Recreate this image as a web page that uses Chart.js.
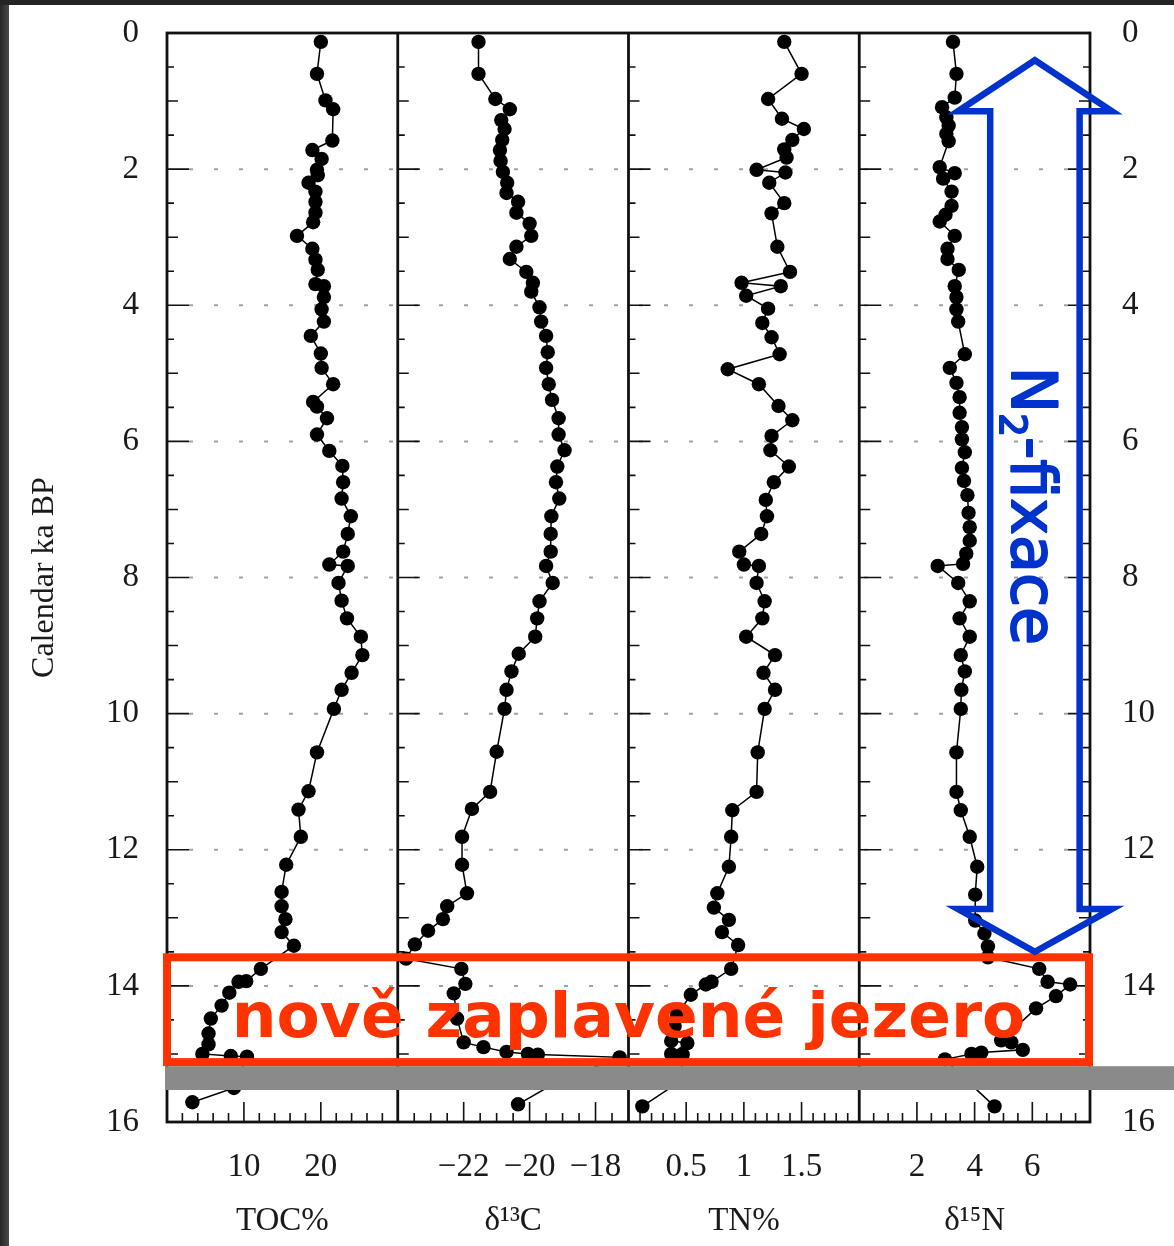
<!DOCTYPE html>
<html>
<head>
<meta charset="utf-8">
<script src="https://cdn.jsdelivr.net/npm/chart.js@4.4.1/dist/chart.umd.min.js"></script>
<style>
  html, body { margin: 0; padding: 0; background: #fff; }
  #wrap { position: relative; width: 1174px; height: 1246px; }
</style>
</head>
<body>
<div id="wrap"><canvas id="core" width="1174" height="1246"></canvas></div>
<script>
// ages (Calendar ka BP) and values
const ageToc = [0.13,0.6,0.99,1.12,1.58,1.72,1.85,2.01,2.09,2.2,2.33,2.48,2.64,2.78,2.98,3.17,3.33,3.48,3.69,3.72,
  3.88,4.06,4.24,4.45,4.71,4.92,5.16,5.42,5.49,5.66,5.9,6.14,6.36,6.6,6.84,7.1,7.36,7.62,7.81,7.83,
  8.08,8.34,8.6,8.87,9.14,9.4,9.65,9.93,10.57,11.14,11.41,11.81,12.22,12.62,12.83,13.02,13.21,13.41,13.75,13.93,
  13.94,14.1,14.29,14.48,14.7,14.86,15.0,15.03,15.04,15.5,15.71];
const toc = [20.0,19.5,20.6,21.6,21.5,18.9,20.1,19.5,19.6,18.4,19.3,19.3,19.3,19.0,16.9,18.9,19.3,19.6,19.3,20.4,
  20.4,20.1,20.4,18.7,20.0,20.1,21.6,19.0,19.5,20.8,19.5,21.1,22.8,22.9,22.7,23.9,23.5,22.9,21.1,23.5,
  22.3,22.7,23.4,25.2,25.4,24.0,22.7,21.7,19.5,18.4,17.1,17.4,15.5,14.9,14.9,15.4,14.9,16.5,12.2,10.3,
  9.3,8.1,7.1,5.7,5.4,5.4,4.6,8.3,10.4,8.7,3.3];

const ageC = [0.13,0.6,0.97,1.12,1.28,1.41,1.57,1.72,1.88,2.04,2.2,2.35,2.48,2.64,2.8,2.98,3.14,3.32,3.51,3.67,
  3.8,4.03,4.24,4.45,4.69,4.92,5.16,5.39,5.66,5.9,6.13,6.37,6.6,6.84,7.1,7.36,7.62,7.83,8.08,8.35,
  8.6,8.87,9.12,9.38,9.65,9.93,10.56,11.15,11.4,11.81,12.22,12.64,12.83,13.02,13.19,13.39,13.6,13.75,13.97,14.11,
  14.48,14.83,14.9,14.97,15.0,15.01,15.05,15.42,15.74];
const d13c = [-21.55,-21.55,-21.04,-20.6,-20.86,-20.76,-20.83,-20.9,-20.88,-20.81,-20.68,-20.7,-20.35,-20.4,-20.0,-19.95,-20.4,-20.6,-20.1,-19.9,
  -19.95,-19.7,-19.65,-19.5,-19.45,-19.5,-19.42,-19.32,-19.12,-19.12,-18.94,-19.16,-19.2,-19.1,-19.34,-19.36,-19.36,-19.5,-19.3,-19.7,
  -19.77,-19.83,-20.33,-20.55,-20.7,-20.76,-21.0,-21.2,-21.75,-22.05,-22.05,-21.9,-22.5,-22.63,-23.08,-23.48,-23.75,-22.07,-21.95,-22.3,
  -22.2,-22.0,-21.4,-20.7,-20.05,-19.75,-17.27,-19.2,-20.35];

const ageTn = [0.13,0.6,0.97,1.26,1.41,1.57,1.71,1.83,2.01,2.05,2.2,2.5,2.65,3.14,3.51,3.67,3.72,3.86,4.05,4.26,
  4.47,4.72,4.94,5.16,5.48,5.69,5.92,6.13,6.37,6.6,6.86,7.1,7.36,7.62,7.81,7.83,8.08,8.35,8.6,8.87,
  9.14,9.4,9.65,9.93,10.57,11.15,11.42,11.81,12.25,12.64,12.85,13.03,13.21,13.4,13.75,13.94,13.98,14.13,14.43,14.59,
  14.81,14.84,15.0,15.01,15.4,15.77];
const tn = [1.35,1.50,1.21,1.33,1.52,1.42,1.35,1.37,1.11,1.36,1.22,1.35,1.24,1.29,1.40,0.98,1.32,1.02,1.21,1.16,
  1.24,1.31,0.86,1.13,1.30,1.42,1.24,1.23,1.39,1.26,1.19,1.20,1.15,0.96,1.00,1.13,1.11,1.18,1.16,1.02,
  1.27,1.17,1.27,1.18,1.12,1.11,0.90,0.89,0.87,0.77,0.74,0.87,0.81,0.95,0.89,0.72,0.67,0.54,0.42,0.40,
  0.37,0.51,0.37,0.47,0.45,0.12];

const ageN = [0.13,0.6,0.95,1.09,1.24,1.36,1.48,1.59,1.97,2.06,2.14,2.33,2.54,2.67,2.77,2.98,3.17,3.32,3.48,3.72,
  3.88,4.06,4.24,4.72,4.92,5.14,5.35,5.58,5.79,5.97,6.16,6.39,6.58,6.79,7.05,7.26,7.46,7.65,7.8,7.83,
  8.08,8.35,8.6,8.87,9.14,9.38,9.65,9.93,10.57,11.15,11.42,11.81,12.25,12.66,13.04,13.23,13.42,13.58,13.75,13.94,
  13.98,14.15,14.33,14.8,14.83,14.94,14.98,15.0,15.08,15.3,15.77];
const d15n = [3.25,3.37,3.31,2.87,3.02,3.10,3.02,3.10,2.79,3.31,2.91,3.2,3.2,2.99,2.79,3.31,3.06,3.06,3.45,3.31,
  3.37,3.37,3.43,3.66,3.14,3.37,3.48,3.48,3.56,3.56,3.66,3.56,3.63,3.75,3.79,3.83,3.83,3.71,3.6,2.72,
  3.43,3.83,3.48,3.83,3.52,3.66,3.54,3.52,3.37,3.37,3.52,3.83,4.09,4.02,4.02,4.34,4.46,4.46,6.24,6.53,
  7.31,6.82,6.13,4.92,5.27,5.67,4.23,3.89,2.97,3.5,4.69];

// axes
const ageTicks = [0, 2, 4, 6, 8, 10, 12, 14, 16];
const panelTitles = ['TOC%', 'δ¹³C', 'TN%', 'δ¹⁵N'];
const panelRanges = [[0, 30], [-24, -17], [0, 2], [0, 8]];
const panelTicks = [[10, 20], [-22, -20, -18], [0.5, 1, 1.5], [2, 4, 6]];
const minorSteps = [2, 0.5, 0.1, 0.5];

// annotation spans (ka BP)
const lakeBox = [13.58, 15.12];
const grayBand = [15.18, 15.53];
const fixArrow = { x: 6.09, shaft: 1.55, head: 2.67, tip0: 0.4, base0: 1.15, base1: 12.87, tip1: 13.5 };

const serif = '"Liberation Serif", "Times New Roman", serif';
const ink = '#1a1a1a';
const xIds = ['x1', 'x2', 'x3', 'x4'];

const series = [[ageToc, toc], [ageC, d13c], [ageTn, tn], [ageN, d15n]];
const datasets = series.map(([ages, vals], i) => ({
  data: ages.map((a, k) => ({ x: vals[k], y: a })),
  xAxisID: xIds[i],
  yAxisID: 'y',
  showLine: true,
  borderColor: '#000',
  borderWidth: 1.5,
  pointRadius: 7.2,
  pointHoverRadius: 7.2,
  pointBackgroundColor: '#000',
  pointBorderWidth: 0
}));

const fmt = (v) => (v < 0 ? '\u2212' + Math.abs(v) : String(v));

// keep the plot frame where it is: drop the label overhang padding
const noOverhang = (s) => { s.paddingTop = 0; s.paddingBottom = 0; s.paddingLeft = 0; s.paddingRight = 0; };

const scales = {
  y: {
    type: 'linear', position: 'left', min: 0, max: 16, reverse: true,
    afterBuildTicks: (s) => { s.ticks = ageTicks.map(v => ({ value: v })); },
    grid: { display: false }, border: { display: false },
    ticks: { font: { family: serif, size: 33 }, color: ink, padding: 20 },
    title: { display: true, text: 'Calendar ka BP', color: ink, font: { family: serif, size: 32 }, padding: { top: 25 } },
    afterFit: (s) => { s.width = 167; noOverhang(s); }
  },
  y2: {
    type: 'linear', position: 'right', min: 0, max: 16, reverse: true,
    afterBuildTicks: (s) => { s.ticks = ageTicks.map(v => ({ value: v })); },
    grid: { display: false }, border: { display: false },
    ticks: { font: { family: serif, size: 33 }, color: ink, padding: 24 },
    afterFit: (s) => { s.width = 84; noOverhang(s); }
  }
};
xIds.forEach((id, i) => {
  scales[id] = {
    type: 'linear', position: 'bottom', stack: 'panels', stackWeight: 1,
    min: panelRanges[i][0], max: panelRanges[i][1],
    afterBuildTicks: (s) => { s.ticks = panelTicks[i].map(v => ({ value: v })); },
    grid: { display: false }, border: { display: false },
    ticks: { font: { family: serif, size: 33 }, color: ink, padding: 18, autoSkip: false, maxRotation: 0, callback: (v) => fmt(v) },
    title: { display: true, text: panelTitles[i], color: ink, font: { family: serif, size: 33 }, padding: { bottom: 5 } },
    afterFit: (s) => { s.height = 124; noOverhang(s); }
  };
});

const near = (a, b) => Math.abs(a - b) < 1e-6;

const framePlugin = {
  id: 'frame',
  beforeDraw(chart) {
    const { ctx, width, height } = chart;
    ctx.save();
    ctx.fillStyle = '#fff';
    ctx.fillRect(0, 0, width, height);
    // dark edge of the screenshot
    const g = ctx.createLinearGradient(0, 0, 9, 0);
    g.addColorStop(0, '#262626');
    g.addColorStop(1, '#4a4a4a');
    ctx.fillStyle = g;
    ctx.fillRect(0, 0, 9, height);
    ctx.fillStyle = '#242424';
    ctx.fillRect(0, 0, width, 5);
    ctx.restore();
  },
  beforeDatasetsDraw(chart) {
    const { ctx, chartArea: a, scales: sc } = chart;
    const y = sc.y;
    const xs = xIds.map(k => sc[k]);
    ctx.save();
    // dotted grid
    ctx.strokeStyle = '#a3a3a3';
    ctx.lineWidth = 2;
    ctx.setLineDash([4, 21]);
    for (let v = 2; v < 16; v += 2) {
      const py = y.getPixelForValue(v);
      ctx.beginPath();
      ctx.moveTo(a.left + 22, py);
      ctx.lineTo(a.right, py);
      ctx.stroke();
    }
    ctx.setLineDash([]);
    // inward age ticks on each panel's left edge and the right frame
    ctx.strokeStyle = '#111';
    ctx.lineWidth = 1.6;
    for (let v = 0.5; v < 16; v += 0.5) {
      const py = y.getPixelForValue(v);
      const len = v % 2 === 0 ? 22 : (v % 1 === 0 ? 11 : 7);
      ctx.beginPath();
      xs.forEach(s => { ctx.moveTo(s.left, py); ctx.lineTo(s.left + len, py); });
      ctx.moveTo(a.right, py);
      ctx.lineTo(a.right - len, py);
      ctx.stroke();
    }
    // upward value ticks on the bottom frame
    xs.forEach((s, i) => {
      const [lo, hi] = panelRanges[i];
      ctx.beginPath();
      for (let k = 1; ; k++) {
        const v = lo + k * minorSteps[i];
        if (v > hi - 1e-6) break;
        const px = s.getPixelForValue(v);
        const len = panelTicks[i].some(m => near(m, v)) ? 20 : 9;
        ctx.moveTo(px, a.bottom);
        ctx.lineTo(px, a.bottom - len);
      }
      ctx.stroke();
    });
    // frames
    ctx.lineWidth = 2.8;
    ctx.strokeRect(a.left, a.top, a.right - a.left, a.bottom - a.top);
    ctx.beginPath();
    xs.slice(1).forEach(s => { ctx.moveTo(s.left, a.top); ctx.lineTo(s.left, a.bottom); });
    ctx.stroke();
    ctx.restore();
  },
  afterDraw(chart) {
    const { ctx, chartArea: a, scales: sc, width } = chart;
    const y = sc.y;
    const xn = sc.x4;
    ctx.save();

    // grey band
    const g0 = y.getPixelForValue(grayBand[0]);
    const g1 = y.getPixelForValue(grayBand[1]);
    ctx.fillStyle = '#8a8a8a';
    ctx.fillRect(a.left - 2, g0, width - a.left + 2, g1 - g0);

    // red box and its label
    const r0 = y.getPixelForValue(lakeBox[0]);
    const r1 = y.getPixelForValue(lakeBox[1]);
    ctx.strokeStyle = '#ff3300';
    ctx.lineWidth = 8;
    ctx.lineJoin = 'miter';
    ctx.strokeRect(a.left, r0, a.right - a.left - 1, r1 - r0);

    const label = 'nově zaplavené jezero';
    ctx.font = 'bold 100px "DejaVu Sans"';
    const size = 100 * 793 / ctx.measureText(label).width;
    ctx.font = `bold ${size.toFixed(1)}px "DejaVu Sans"`;
    ctx.fillStyle = '#ff3300';
    ctx.textAlign = 'center';
    ctx.textBaseline = 'alphabetic';
    ctx.fillText(label, sc.x3.left, y.getPixelForValue(14.75));

    // blue double arrow
    const cx = xn.getPixelForValue(fixArrow.x);
    const sL = xn.getPixelForValue(fixArrow.x - fixArrow.shaft);
    const sR = xn.getPixelForValue(fixArrow.x + fixArrow.shaft);
    const hL = xn.getPixelForValue(fixArrow.x - fixArrow.head);
    const hR = xn.getPixelForValue(fixArrow.x + fixArrow.head);
    const t0 = y.getPixelForValue(fixArrow.tip0);
    const b0 = y.getPixelForValue(fixArrow.base0);
    const b1 = y.getPixelForValue(fixArrow.base1);
    const t1 = y.getPixelForValue(fixArrow.tip1);
    ctx.strokeStyle = '#0033cc';
    ctx.lineWidth = 6.5;
    ctx.beginPath();
    ctx.moveTo(cx, t0);
    ctx.lineTo(hR, b0);
    ctx.lineTo(sR, b0);
    ctx.lineTo(sR, b1);
    ctx.lineTo(hR, b1);
    ctx.lineTo(cx, t1);
    ctx.lineTo(hL, b1);
    ctx.lineTo(sL, b1);
    ctx.lineTo(sL, b0);
    ctx.lineTo(hL, b0);
    ctx.closePath();
    ctx.stroke();

    // rotated "N2-fixace"
    const fs = 62;
    const partA = 'N', partB = '2', partC = '-fixace';
    ctx.font = `${fs}px "DejaVu Sans"`;
    const wA = ctx.measureText(partA).width;
    const wC = ctx.measureText(partC).width;
    ctx.font = `${fs * 0.6}px "DejaVu Sans"`;
    const wB = ctx.measureText(partB).width;
    const total = wA + wB + wC;
    ctx.translate(cx - 23, (t0 + t1) / 2);
    ctx.rotate(Math.PI / 2);
    ctx.fillStyle = '#0033cc';
    ctx.strokeStyle = '#0033cc';
    ctx.lineWidth = 2;
    ctx.lineJoin = 'round';
    ctx.textAlign = 'left';
    const put = (t, x, yy, f) => { ctx.font = f; ctx.fillText(t, x, yy); ctx.strokeText(t, x, yy); };
    let px = -total / 2;
    put(partA, px, 0, `${fs}px "DejaVu Sans"`);
    px += wA;
    put(partB, px, fs * 0.2, `${fs * 0.6}px "DejaVu Sans"`);
    px += wB;
    put(partC, px, 0, `${fs}px "DejaVu Sans"`);

    ctx.restore();
  }
};

new Chart(document.getElementById('core'), {
  type: 'scatter',
  data: { datasets },
  options: {
    responsive: false,
    animation: false,
    events: [],
    layout: { autoPadding: false, padding: { top: 33, left: 0, right: 0, bottom: 0 } },
    plugins: { legend: { display: false }, tooltip: { enabled: false } },
    scales
  },
  plugins: [framePlugin]
});
</script>
</body>
</html>
